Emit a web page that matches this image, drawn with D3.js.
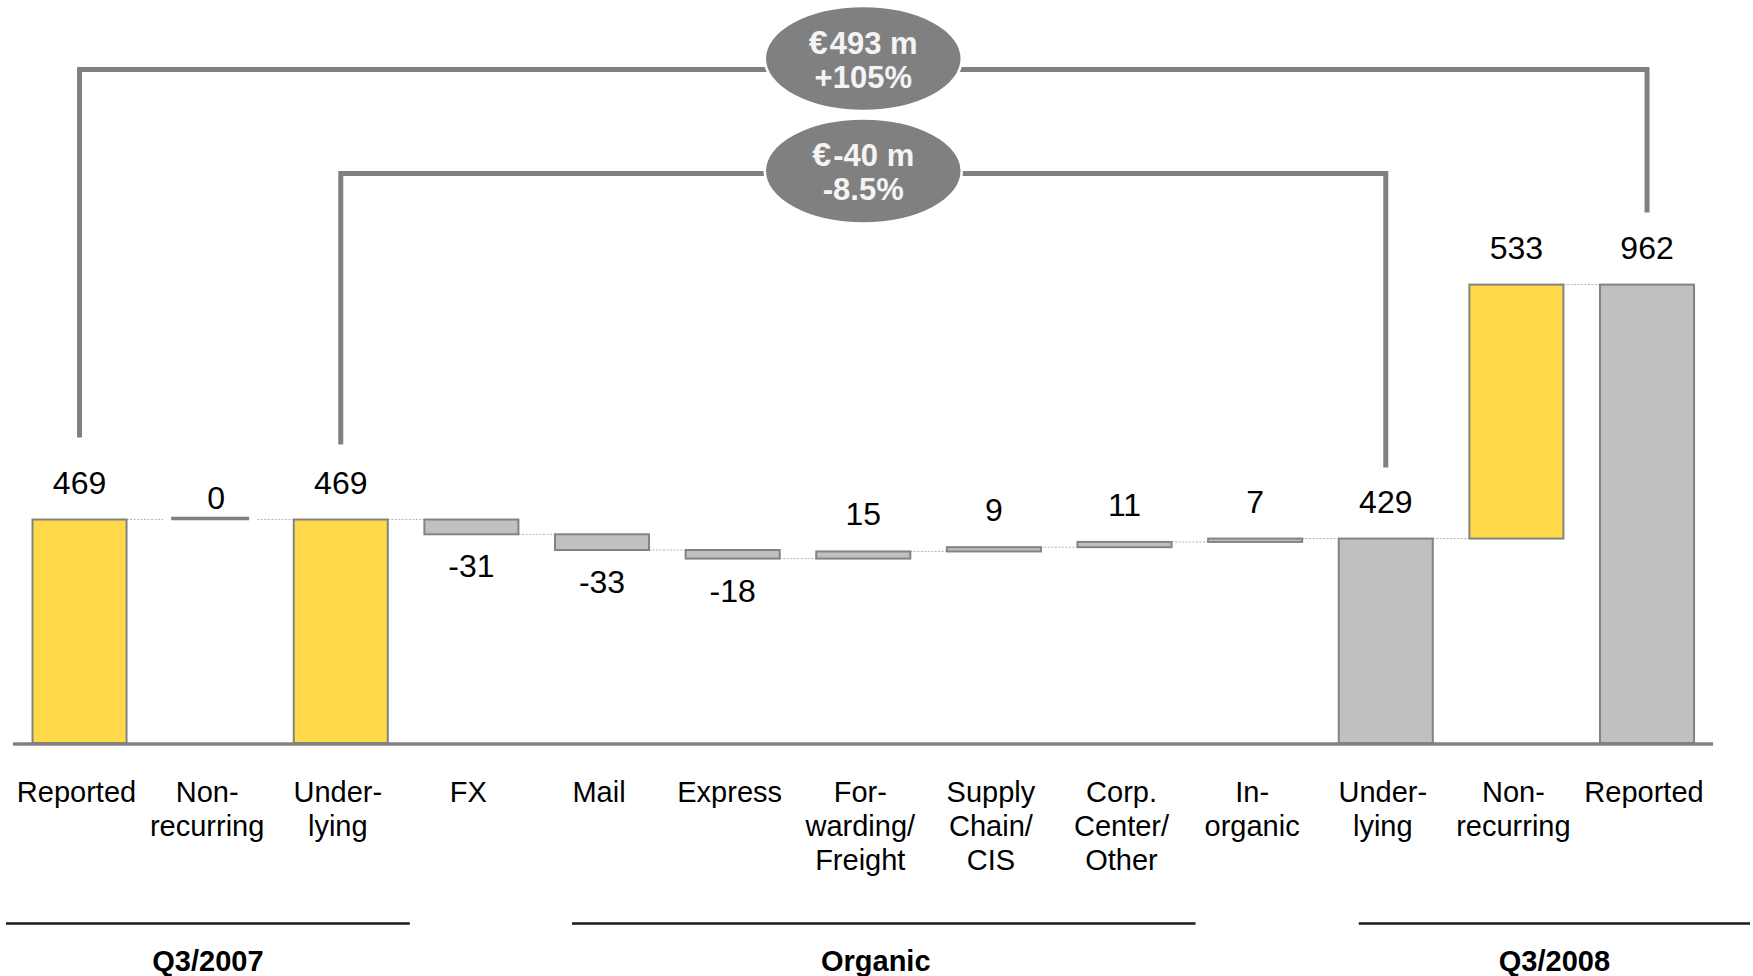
<!DOCTYPE html>
<html>
<head>
<meta charset="utf-8">
<script src="https://cdn.jsdelivr.net/npm/d3@7"></script>
<style>
  html, body { margin: 0; padding: 0; background: #ffffff; }
  svg { display: block; font-family: "Liberation Sans", Arial, Helvetica, sans-serif; }
</style>
</head>
<body>
<svg id="chart" width="1753" height="976"></svg>
<script>
// EBIT bridge Q3/2007 -> Q3/2008, € m
const categories = [
  "Reported", "Non-\nrecurring", "Under-\nlying", "FX", "Mail", "Express",
  "For-\nwarding/\nFreight", "Supply\nChain/\nCIS", "Corp.\nCenter/\nOther",
  "In-\norganic", "Under-\nlying", "Non-\nrecurring", "Reported"
];
const values = [469, 0, 469, -31, -33, -18, 15, 9, 11, 7, 429, 533, 962];
const kinds = ["total", "delta", "total", "delta", "delta", "delta", "delta",
               "delta", "delta", "delta", "total", "delta", "total"];

const groupNames = ["Q3/2007", "Organic", "Q3/2008"];
const groupFirst = [0, 4, 10];
const groupLast = [2, 8, 12];

const bridgeFrom = [0, 2];
const bridgeTo = [12, 10];
const bridgeAmounts = ["€493 m", "€-40 m"];
const bridgePercents = ["+105%", "-8.5%"];

// ---- styling / layout ----
const YELLOW = "#FFD94A", GREY = "#C0C0C0", EDGE = "#838383", DARK = "#808080";
const highlighted = new Set([0, 2, 11]);

const svg = d3.select("#chart");

const x = d3.scaleBand()
  .domain(d3.range(categories.length))
  .range([32.5, 32.5 + 130.625 * (categories.length - 0.28)])
  .paddingInner(0.28)
  .paddingOuter(0);
const bw = x.bandwidth();
const cx = i => x(i) + bw / 2;

const y = d3.scaleLinear().domain([0, 1000]).range([743, 266.5]);

// running waterfall levels
let level = 0;
const bars = values.map((v, i) => {
  let lo, hi;
  if (kinds[i] === "total") { lo = 0; hi = v; level = v; }
  else { lo = level; hi = level + v; level = hi; }
  return { i, v, kind: kinds[i], lo, hi, end: level };
});

// dotted connectors between neighbouring bars
svg.append("g")
  .selectAll("line")
  .data(bars.slice(0, -1))
  .join("line")
  .attr("x1", d => x(d.i) + bw)
  .attr("x2", d => x(d.i + 1))
  .attr("y1", d => y(d.end))
  .attr("y2", d => y(d.end))
  .attr("stroke", "#b4b4b4")
  .attr("stroke-width", 1)
  .attr("stroke-dasharray", "2,1.5");

// bars
const barG = svg.append("g");
barG.selectAll("rect")
  .data(bars.filter(d => d.v !== 0))
  .join("rect")
  .attr("x", d => x(d.i))
  .attr("width", bw)
  .attr("y", d => y(Math.max(d.lo, d.hi)))
  .attr("height", d => Math.abs(y(d.lo) - y(d.hi)))
  .attr("fill", d => highlighted.has(d.i) ? YELLOW : GREY)
  .attr("stroke", EDGE)
  .attr("stroke-width", 2);

// zero-valued step drawn as a flat bar
barG.selectAll("line.zero")
  .data(bars.filter(d => d.v === 0))
  .join("line")
  .attr("class", "zero")
  .attr("x1", d => x(d.i) + 8)
  .attr("x2", d => x(d.i) + bw - 8)
  .attr("y1", d => y(d.lo) - 1)
  .attr("y2", d => y(d.lo) - 1)
  .attr("stroke", DARK)
  .attr("stroke-width", 3.5);

// baseline
svg.append("line")
  .attr("x1", 13).attr("x2", 1713)
  .attr("y1", y(0) + 1).attr("y2", y(0) + 1)
  .attr("stroke", DARK)
  .attr("stroke-width", 3.5);

// value labels
const labelY = d => {
  if (d.v < 0) return y(d.hi) + 43;
  if (d.v === 0) return y(d.hi) - 11;
  return y(Math.max(d.lo, d.hi)) - 26;
};
svg.append("g")
  .selectAll("text")
  .data(bars)
  .join("text")
  .attr("x", d => cx(d.i) + (d.v === 0 ? 6 : 0))
  .attr("y", labelY)
  .attr("text-anchor", "middle")
  .attr("font-size", 32)
  .attr("fill", "#000")
  .text(d => String(d.v));

// category labels (multi-line)
const catG = svg.append("g");
categories.forEach((c, i) => {
  const t = catG.append("text")
    .attr("text-anchor", "middle")
    .attr("font-size", 29)
    .attr("fill", "#000");
  c.split("\n").forEach((line, k) => {
    t.append("tspan")
      .attr("x", cx(i) - 3)
      .attr("y", 801.5 + k * 34.4)
      .text(line);
  });
});

// group underlines and names
const groupLayout = [
  { a: -26.5, b: 22, dx: 0 },
  { a: 17, b: 24, dx: -8 },
  { a: 20, b: 56, dx: 0 }
];
const grpG = svg.append("g");
groupNames.forEach((g, k) => {
  const L = groupLayout[k];
  const x0 = x(groupFirst[k]) + L.a;
  const x1 = x(groupLast[k]) + bw + L.b;
  grpG.append("line")
    .attr("x1", x0).attr("x2", x1)
    .attr("y1", 923.5).attr("y2", 923.5)
    .attr("stroke", "#1a1a1a")
    .attr("stroke-width", 2.3);
  grpG.append("text")
    .attr("x", (x0 + x1) / 2 + L.dx)
    .attr("y", 971)
    .attr("text-anchor", "middle")
    .attr("font-size", 29)
    .attr("font-weight", "bold")
    .attr("fill", "#000")
    .text(g);
});

// bridge brackets with summary bubbles
const bridgeLayout = [
  { lineY: 69.5, cy: 58.5, gapL: 33, gapR: 23 },
  { lineY: 173.5, cy: 171, gapL: 26, gapR: 22 }
];
const capH = 23;
const brG = svg.append("g");
bridgeFrom.forEach((f, k) => {
  const t = bridgeTo[k];
  const L = bridgeLayout[k];
  const xl = cx(f), xr = cx(t);
  const yl = labelY(bars[f]) - capH - L.gapL;
  const yr = labelY(bars[t]) - capH - L.gapR;
  brG.append("path")
    .attr("d", `M${xl},${yl} V${L.lineY} H${xr} V${yr}`)
    .attr("fill", "none")
    .attr("stroke", DARK)
    .attr("stroke-width", 5);
  const mx = (xl + xr) / 2;
  brG.append("ellipse")
    .attr("cx", mx).attr("cy", L.cy)
    .attr("rx", 98.5).attr("ry", 52.5)
    .attr("fill", DARK)
    .attr("stroke", "#ffffff")
    .attr("stroke-width", 2.5);
  const amt = brG.append("text")
    .attr("x", mx).attr("y", L.cy - 5)
    .attr("text-anchor", "middle")
    .attr("font-size", 31)
    .attr("font-weight", "bold")
    .attr("fill", "#f4f4f4");
  amt.append("tspan").attr("font-size", 34).text(bridgeAmounts[k].slice(0, 1));
  amt.append("tspan").attr("dx", 2).text(bridgeAmounts[k].slice(1));
  brG.append("text")
    .attr("x", mx).attr("y", L.cy + 29)
    .attr("text-anchor", "middle")
    .attr("font-size", 31)
    .attr("font-weight", "bold")
    .attr("fill", "#f4f4f4")
    .text(bridgePercents[k]);
});
</script>
</body>
</html>
